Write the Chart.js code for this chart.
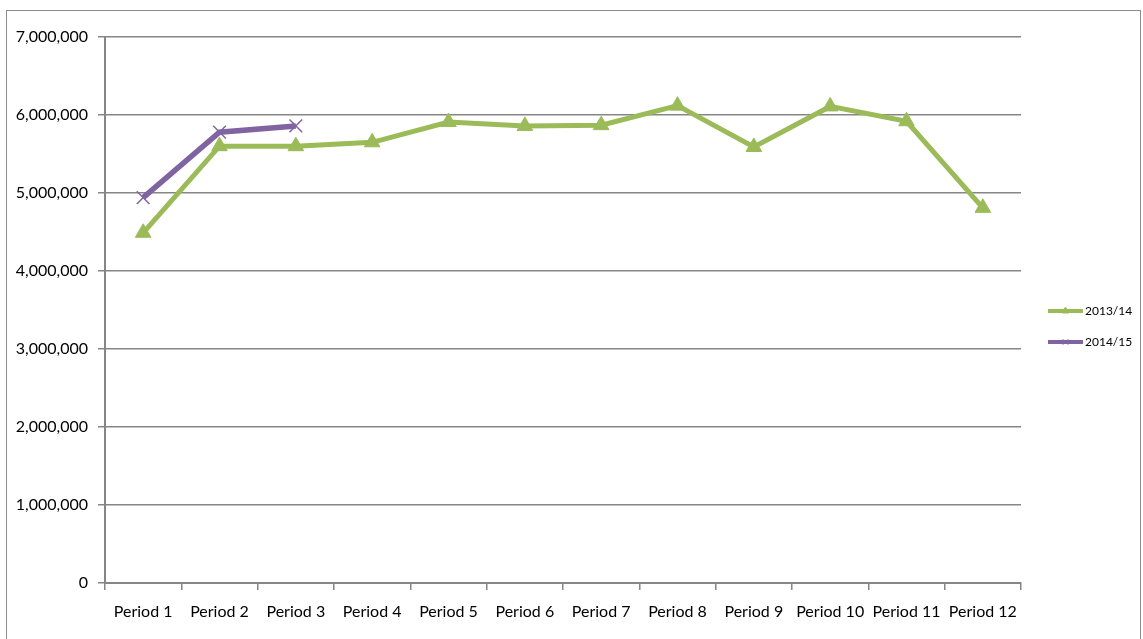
<!DOCTYPE html>
<html>
<head>
  <meta charset="utf-8" />
  <title>Periods 2013/14 vs 2014/15</title>
  <script src="https://cdn.jsdelivr.net/npm/chart.js"></script>
  <style>
    html, body { margin: 0; padding: 0; background: #fff; }
    #wrap { position: relative; width: 1143px; height: 639px; overflow: hidden; }
    #frame {
      position: absolute; left: 6px; top: 10px; width: 1135px; height: 700px;
      border: 1px solid #8c8c8c; box-sizing: border-box;
    }
    #chart { position: absolute; left: 0; top: 0; }
  </style>
</head>
<body>
  <div id="wrap">
    <div id="frame"></div>
    <canvas id="chart" width="1143" height="639"></canvas>
  </div>

  <script>
    var periods = ['Period 1', 'Period 2', 'Period 3', 'Period 4', 'Period 5', 'Period 6',
                   'Period 7', 'Period 8', 'Period 9', 'Period 10', 'Period 11', 'Period 12'];
    var seriesNames = ['2013/14', '2014/15'];
    var values1314 = [4490000, 5600000, 5600000, 5650000, 5910000, 5860000,
                      5870000, 6120000, 5590000, 6110000, 5920000, 4810000];
    var values1415 = [4940000, 5780000, 5860000];

    var green = '#9bbb59';
    var purple = '#8064a2';
    var gridGray = '#868686';
    var font = "Lato, 'Open Sans', sans-serif";

    // legend drawn as line + marker like the original
    var sideLegend = {
      id: 'sideLegend',
      afterDraw: function (chart) {
        var ctx = chart.ctx;
        var ys = [311, 342];
        chart.data.datasets.forEach(function (ds, i) {
          var y = ys[i];
          ctx.save();
          ctx.strokeStyle = ds.borderColor;
          ctx.fillStyle = ds.borderColor;
          ctx.lineWidth = 4;
          ctx.beginPath();
          ctx.moveTo(1048, y);
          ctx.lineTo(1083, y);
          ctx.stroke();
          ctx.lineWidth = 1;
          Chart.helpers.drawPoint(ctx, {
            pointStyle: ds.pointStyle, radius: 4, borderWidth: 1
          }, 1065.5, y);
          ctx.fillStyle = '#000';
          ctx.font = '12px ' + font;
          ctx.textBaseline = 'middle';
          ctx.fillText(ds.label, 1085, y);
          ctx.restore();
        });
      }
    };

    var ctx = document.getElementById('chart').getContext('2d');
    new Chart(ctx, {
      type: 'line',
      data: {
        labels: periods,
        datasets: [{
          label: seriesNames[0],
          data: values1314,
          borderColor: green,
          backgroundColor: green,
          borderWidth: 5,
          pointStyle: 'triangle',
          pointRadius: 9,
          pointBorderWidth: 1,
          pointBackgroundColor: green,
          pointBorderColor: green,
          tension: 0,
          fill: false
        }, {
          label: seriesNames[1],
          data: values1415,
          borderColor: purple,
          backgroundColor: purple,
          borderWidth: 5.5,
          pointStyle: 'crossRot',
          pointRadius: 9,
          pointBorderWidth: 1.5,
          pointBorderColor: purple,
          tension: 0,
          fill: false
        }]
      },
      options: {
        responsive: false,
        animation: false,
        layout: { padding: { top: 37, right: 122, left: 0, bottom: 0 } },
        plugins: {
          legend: { display: false },
          tooltip: { enabled: false }
        },
        scales: {
          x: {
            offset: true,
            grid: {
              offset: true,
              drawOnChartArea: false,
              drawTicks: true,
              tickLength: 7,
              color: gridGray,
              lineWidth: 1.5
            },
            border: { display: true, color: gridGray, width: 2 },
            ticks: {
              color: '#000',
              font: { family: font, size: 16 },
              padding: 12,
              maxRotation: 0,
              autoSkip: false
            },
            afterFit: function (scale) { scale.height = 56; }
          },
          y: {
            min: 0,
            max: 7000000,
            ticks: {
              stepSize: 1000000,
              color: '#000',
              font: { family: font, size: 16 },
              padding: 10,
              callback: function (v) { return v.toLocaleString('en-US'); }
            },
            grid: {
              color: gridGray,
              lineWidth: 1.5,
              tickLength: 7
            },
            border: { display: true, color: gridGray, width: 2 },
            afterFit: function (scale) { scale.width = 105; }
          }
        }
      },
      plugins: [sideLegend]
    });
  </script>
</body>
</html>
